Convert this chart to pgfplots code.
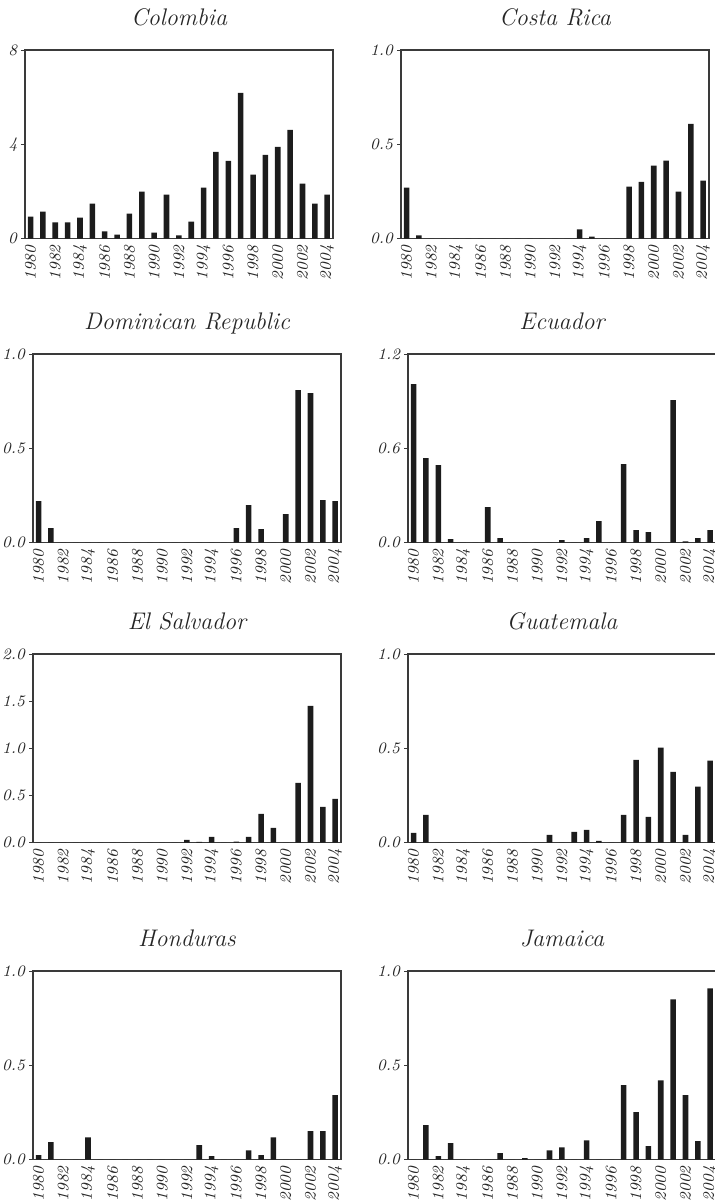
\documentclass[border=0pt]{standalone}
\usepackage{pgfplots}
\usepackage{pgfplotstable}
\pgfplotsset{compat=1.18}

\definecolor{barcol}{HTML}{1C1C1C}
\definecolor{axcol}{HTML}{3A3A3A}

% year, one column per country
\pgfplotstableread{
year  col   cri    dom    ecu    slv    gtm    hnd    jam
1980  0.93  0.270  0.220  1.009  0.000  0.051  0.023  0.000
1981  1.14  0.016  0.076  0.537  0.000  0.147  0.092  0.182
1982  0.68  0.000  0.000  0.493  0.000  0.000  0.000  0.018
1983  0.68  0.000  0.000  0.021  0.000  0.000  0.000  0.087
1984  0.89  0.000  0.000  0.000  0.000  0.000  0.118  0.000
1985  1.48  0.000  0.000  0.000  0.000  0.000  0.000  0.000
1986  0.30  0.000  0.000  0.225  0.000  0.000  0.000  0.000
1987  0.17  0.000  0.000  0.028  0.000  0.000  0.000  0.034
1988  1.06  0.000  0.000  0.000  0.000  0.000  0.000  0.000
1989  1.99  0.000  0.000  0.000  0.000  0.000  0.000  0.007
1990  0.25  0.000  0.000  0.000  0.000  0.000  0.000  0.000
1991  1.86  0.000  0.000  0.000  0.000  0.041  0.000  0.049
1992  0.13  0.000  0.000  0.015  0.028  0.000  0.000  0.065
1993  0.72  0.000  0.000  0.000  0.008  0.057  0.076  0.000
1994  2.16  0.048  0.000  0.028  0.060  0.067  0.018  0.102
1995  3.68  0.010  0.000  0.136  0.000  0.009  0.000  0.000
1996  3.30  0.000  0.076  0.000  0.010  0.000  0.000  0.000
1997  6.18  0.000  0.198  0.499  0.060  0.147  0.049  0.394
1998  2.71  0.275  0.071  0.079  0.304  0.439  0.023  0.251
1999  3.55  0.300  0.000  0.066  0.156  0.136  0.118  0.071
2000  3.89  0.386  0.150  0.000  0.000  0.503  0.000  0.420
2001  4.61  0.413  0.809  0.907  0.634  0.375  0.000  0.850
2002  2.33  0.249  0.793  0.008  1.451  0.041  0.150  0.341
2003  1.48  0.608  0.225  0.028  0.379  0.296  0.150  0.097
2004  1.86  0.307  0.220  0.079  0.464  0.434  0.341  0.908
}\datatable

\pgfplotsset{
  panel/.style={
    scale only axis, width=154pt, height=94.25pt, anchor=north west,
    ybar, bar width=0.45, ymin=0,
    xmin=1979.55, xmax=2004.47,
    axis line style={axcol, line width=0.55pt},
    tick style={axcol, line width=0.5pt},
    tick align=outside, xtick pos=bottom, ytick pos=left,
    major tick length=2pt, minor tick length=2pt,
    xtick={1980,1982,...,2004},
    minor xtick={1980.5,1981.5,...,2003.5},
    xtick style={draw=none},
    /pgf/number format/assume math mode=true,
    xticklabel={\textit{\pgfmathprintnumber[1000 sep={}]{\tick}}},
    xticklabel style={rotate=90, anchor=east, inner sep=1pt,
      font=\fontsize{8}{9.5}\selectfont, text=black!85},
    yticklabel style={font=\fontsize{8}{9.5}\selectfont, text=black!85, inner sep=1.5pt},
    yticklabel={\textit{\pgfmathprintnumber[fixed,fixed zerofill,precision=1]{\tick}}},
    every axis title shift=0pt,
    title style={at={(0.5,1)}, anchor=base, yshift=12.5pt,
      font=\fontsize{12}{14}\selectfont\itshape, text=black!85},
  },
  bars/.style={fill=barcol, draw=none},
}

\begin{document}
\begin{tikzpicture}
\path[use as bounding box] (0,0) rectangle (357.5pt,-600.5pt);

% row 1
\begin{axis}[panel, at={(12.5pt,-25pt)}, title={Colombia},
  ymax=8, ytick={0,4,8},
  yticklabel={\textit{\pgfmathprintnumber[fixed,precision=0]{\tick}}}]
\addplot[bars] table[x=year, y=col] {\datatable};
\end{axis}
\begin{axis}[panel, at={(200.5pt,-25pt)}, title={Costa Rica},
  ymax=1, ytick={0,0.5,1}]
\addplot[bars] table[x=year, y=cri] {\datatable};
\end{axis}

% row 2
\begin{axis}[panel, at={(16.5pt,-177pt)}, title={Dominican Republic},
  ymax=1, ytick={0,0.5,1}]
\addplot[bars] table[x=year, y=dom] {\datatable};
\end{axis}
\begin{axis}[panel, at={(204pt,-177pt)}, title={Ecuador},
  ymax=1.2, ytick={0,0.6,1.2}]
\addplot[bars] table[x=year, y=ecu] {\datatable};
\end{axis}

% row 3
\begin{axis}[panel, at={(16.5pt,-327pt)}, title={El Salvador},
  ymax=2, ytick={0,0.5,...,2}]
\addplot[bars] table[x=year, y=slv] {\datatable};
\end{axis}
\begin{axis}[panel, at={(204pt,-327pt)}, title={Guatemala},
  ymax=1, ytick={0,0.5,1}]
\addplot[bars] table[x=year, y=gtm] {\datatable};
\end{axis}

% row 4
\begin{axis}[panel, at={(16.5pt,-485.5pt)}, title={Honduras},
  ymax=1, ytick={0,0.5,1}]
\addplot[bars] table[x=year, y=hnd] {\datatable};
\end{axis}
\begin{axis}[panel, at={(204pt,-485.5pt)}, title={Jamaica},
  ymax=1, ytick={0,0.5,1}]
\addplot[bars] table[x=year, y=jam] {\datatable};
\end{axis}
\end{tikzpicture}
\end{document}
